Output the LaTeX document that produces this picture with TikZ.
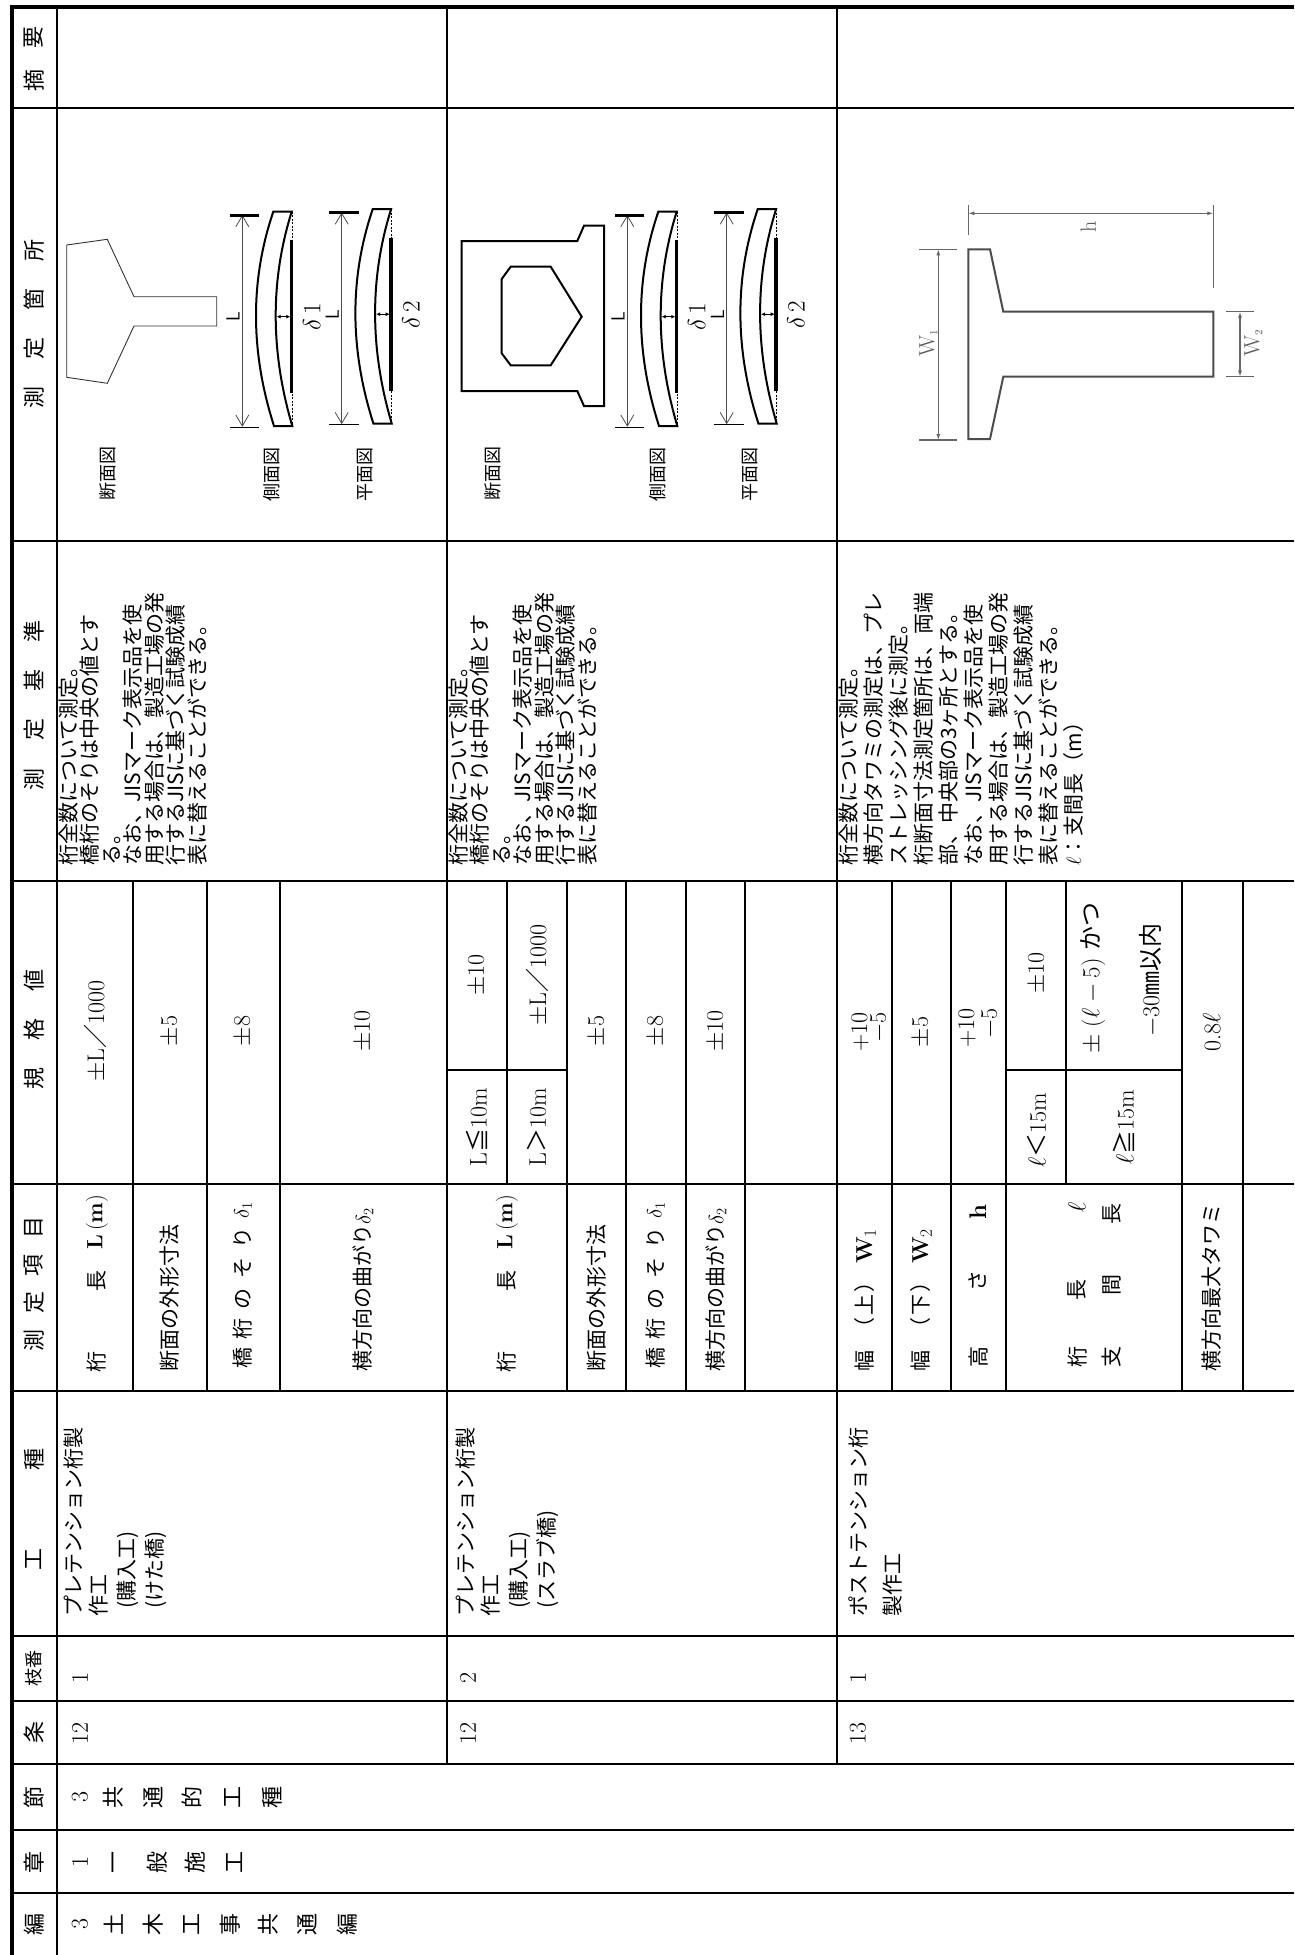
\documentclass[tikz,border=0pt]{standalone}
\usepackage{fontspec}
\usepackage{amssymb}
\newfontfamily\jp{Noto Sans CJK JP}
\usetikzlibrary{arrows.meta}
\newcommand\drawbeam[4]{%
\begin{scope}[shift={(#1,#2)}]
 \draw[line width=0.8pt, black!70, {Straight Barb[length=11pt,width=13pt]}-{Straight Barb[length=11pt,width=13pt]}] (0,215) -- (0,426.7);
 \draw[line width=3pt] (-12.3,215) -- (17,215);
 \draw[line width=1.3pt] (-12.3,427.3) -- (17,427.3);
 \draw[line width=2pt] (31,211.7) .. controls (7.7,280.3) and (7.93,351.7) .. (31.7,426) -- (50,426) .. controls (28.07,351.7) and (27.87,280.3) .. (49.4,211.7) -- cycle;
 \draw[line width=0.6pt, dash pattern=on 2pt off 1.5pt] (50,211.7) -- (50,426);
 \draw[line width=3.5pt] (49.4,240) -- (49.4,393);
 \draw[line width=0.9pt, {Latex[length=4pt,width=4pt]}-{Latex[length=4pt,width=4pt]}] (34.4,316.7) -- (48,316.7);
 \node[font=\sffamily\fontsize{19}{19}\selectfont, rotate=90, inner sep=0pt] (#3L) at (-9.3,317) {L};
 \node[font=\fontsize{25}{25}\selectfont, rotate=90, inner sep=0pt] (#3d) at (69.4,317) {$\delta$\,#4};
\end{scope}}
\begin{document}
\begin{tikzpicture}[x=1pt,y=-1pt,
  tl/.style={line width=2.6pt},
  tb/.style={line width=4.6pt},
  jt/.style={font=\jp\fontsize{21}{22}\selectfont, inner sep=0pt, rotate=90},
  hd/.style={font=\jp\fontsize{22}{22}\selectfont, inner sep=0pt, rotate=90},
  nm/.style={font=\fontsize{24}{24}\selectfont, inner sep=0pt, rotate=90},
  lb/.style={font=\jp\fontsize{18}{18}\selectfont, inner sep=0pt, rotate=90},
  gr/.style={draw=black!60, line width=1.1pt},
]
\fill[white] (0,0) rectangle (1294,1955);
\useasboundingbox (0,0) rectangle (1294,1955);

% ---------------- table lines ----------------
\draw[tb] (9.7,7) -- (1294,7);
\draw[tb] (12,4.7) -- (12,1955);
\draw[tl] (57,7) -- (57,1955);
\foreach \yy in {108,541,881,1184,1391,1636,1701,1764,1830,1893} \draw[tl] (12,\yy) -- (1294,\yy);
\foreach \xx in {447,837} \draw[tl] (\xx,7) -- (\xx,1764);
\foreach \xx in {133,207,280,567,626,686,745,892,951,1006,1182,1243} \draw[tl] (\xx,881) -- (\xx,1391);
\draw[tl] (507,881) -- (507,1184);
\draw[tl] (1066,881) -- (1066,1184);
\draw[tl] (447,1070) -- (567,1070);
\draw[tl] (1006,1070) -- (1182,1070);

% ---------------- header column ----------------
\node[hd] (hA1) at (34,80) {摘}; \node[hd] (hA2) at (34,37) {要};
\node[hd] (hB1) at (34,397) {測}; \node[hd] (hB2) at (34,348) {定};
\node[hd] (hB3) at (34,299) {箇}; \node[hd] (hB4) at (34,250) {所};
\node[hd] (hC1) at (34,779) {測}; \node[hd] (hC2) at (34,729) {定};
\node[hd] (hC3) at (34,680) {基}; \node[hd] (hC4) at (34,631) {準};
\node[hd] (hD1) at (34,1078) {規}; \node[hd] (hD2) at (34,1029) {格}; \node[hd] (hD3) at (34,980) {値};
\node[hd] (hE1) at (34,1340) {測}; \node[hd] (hE2) at (34,1302) {定};
\node[hd] (hE3) at (34,1265) {項}; \node[hd] (hE4) at (34,1227) {目};
\node[hd] (hF1) at (34,1559) {工}; \node[hd] (hF2) at (34,1459) {種};
\node[hd, font=\jp\fontsize{18}{18}\selectfont] (hG) at (34,1668) {枝番};
\node[hd] (hH) at (34,1732) {条};
\node[hd] (hI) at (34,1797) {節};
\node[hd] (hJ) at (34,1862) {章};
\node[hd] (hK) at (34,1924) {編};

% ---------------- 編 / 章 / 節 ----------------
\node[nm] (hen0) at (80,1924) {3};
\foreach \c/\xx [count=\i] in {土/114,木/153,工/192,事/230,共/268,通/307,編/347}
  \node[hd, name=hen\i] at (\xx,1924) {\c};
\node[nm] (sho0) at (80,1862) {1};
\foreach \c/\xx [count=\i] in {一/117,般/157,施/195,工/235}
  \node[hd, name=sho\i] at (\xx,1862) {\c};
\node[nm] (set0) at (80,1797) {3};
\foreach \c/\xx [count=\i] in {共/113,通/153,的/192,工/233,種/272}
  \node[hd, name=set\i] at (\xx,1797) {\c};

% ---------------- 条 / 枝番 ----------------
\node[nm, anchor=west] (jo1) at (80,1745) {12};
\node[nm, anchor=west] (jo2) at (468,1745) {12};
\node[nm, anchor=west] (jo3) at (858,1745) {13};
\node[nm, anchor=west] (ed1) at (80,1684) {1};
\node[nm, anchor=west] (ed2) at (468,1684) {2};
\node[nm, anchor=west] (ed3) at (858,1684) {1};

% ---------------- 工種 ----------------
\node[jt, anchor=base west] (ka1) at (81,1617) {プレテンション桁製};
\node[jt, anchor=base west] (ka2) at (106,1617) {作工};
\node[jt, anchor=base west] (ka3) at (134,1609) {(購入工)};
\node[jt, anchor=base west] (ka4) at (162,1609) {(けた橋)};
\node[jt, anchor=base west] (kb1) at (473,1617) {プレテンション桁製};
\node[jt, anchor=base west] (kb2) at (498,1617) {作工};
\node[jt, anchor=base west] (kb3) at (526,1609) {(購入工)};
\node[jt, anchor=base west] (kb4) at (554,1609) {(スラブ橋)};
\node[jt, anchor=base west] (kc1) at (866,1617) {ポストテンション桁};
\node[jt, anchor=base west] (kc2) at (900,1617) {製作工};

% ---------------- 測定項目 ----------------
% row 1
\node[jt] (ia1) at (97,1362) {桁};
\node[jt] (ia2) at (97,1281) {長};
\node[nm, font=\fontsize{22}{22}\selectfont] (ia3) at (97,1222) {\textbf{L}\,(\textbf{m})};
\node[jt, anchor=west] (ia4) at (170,1372) {断面の外形寸法};
\foreach \c/\yy [count=\i] in {橋/1358,桁/1329,の/1299,そ/1268,り/1238}
  \node[jt, name=ia5\i] at (243,\yy) {\c};
\node[nm, font=\fontsize{22}{22}\selectfont] (ia6) at (243,1210) {$\delta_1$};
\node[jt, anchor=west] (ia7) at (363,1372) {横方向の曲がり$\delta_2$};
% row 2
\node[jt] (ib1) at (507,1362) {桁};
\node[jt] (ib2) at (507,1281) {長};
\node[nm, font=\fontsize{22}{22}\selectfont] (ib3) at (507,1222) {\textbf{L}\,(\textbf{m})};
\node[jt, anchor=west] (ib4) at (597,1372) {断面の外形寸法};
\foreach \c/\yy [count=\i] in {橋/1358,桁/1329,の/1299,そ/1268,り/1238}
  \node[jt, name=ib5\i] at (656,\yy) {\c};
\node[nm, font=\fontsize{22}{22}\selectfont] (ib6) at (656,1210) {$\delta_1$};
\node[jt, anchor=west] (ib7) at (716,1372) {横方向の曲がり$\delta_2$};
% row 3
\node[jt, anchor=west] (ic1) at (865,1372) {幅\hspace{12pt}（\hspace{2pt}上\hspace{2pt}）\hspace{8pt}{\rmfamily\fontsize{23}{23}\selectfont\textbf{W}$_1$}};
\node[jt, anchor=west] (ic2) at (921,1372) {幅\hspace{12pt}（\hspace{2pt}下\hspace{2pt}）\hspace{8pt}{\rmfamily\fontsize{23}{23}\selectfont\textbf{W}$_2$}};
\node[jt] (ic3) at (978,1357) {高};
\node[jt] (ic4) at (978,1281) {さ};
\node[nm] (ic5) at (978,1212) {\textbf{h}};
\node[jt] (ic6) at (1077,1357) {桁};
\node[jt] (ic7) at (1077,1290) {長};
\node[nm] (ic8) at (1077,1207) {$\ell$};
\node[jt] (ic9) at (1112,1357) {支};
\node[jt] (ic10) at (1112,1285) {間};
\node[jt] (ic11) at (1112,1214) {長};
\node[jt, anchor=west] (ic12) at (1212,1372) {横方向最大タワミ};

% ---------------- 規格値 ----------------
\node[nm] (va1) at (95,1031) {$\pm$L{\jp ／}1000};
\node[nm] (va2) at (170,1031) {$\pm$5};
\node[nm] (va3) at (243,1031) {$\pm$8};
\node[nm] (va4) at (363,1031) {$\pm$10};
\node[nm] (vb1) at (477,975) {$\pm$10};
\node[nm] (vb2) at (537,975) {$\pm$L{\jp ／}1000};
\node[nm] (vb3) at (477,1127) {L{\jp ≦}10m};
\node[nm] (vb4) at (537,1127) {L{\jp ＞}10m};
\node[nm] (vb5) at (597,1031) {$\pm$5};
\node[nm] (vb6) at (656,1031) {$\pm$8};
\node[nm] (vb7) at (716,1031) {$\pm$10};
\node[nm, anchor=east] (vc1) at (860,1012) {+10};
\node[nm, anchor=east] (vc2) at (879,1012) {$-$5};
\node[nm] (vc3) at (921,1032) {$\pm$5};
\node[nm, anchor=east] (vc4) at (967,1008) {+10};
\node[nm, anchor=east] (vc5) at (990,1008) {$-$5};
\node[nm] (vc6) at (1037,973) {$\pm$10};
\node[nm] (vc7) at (1037,1130) {$\ell${\jp ＜}15m};
\node[nm] (vc8) at (1124,1127) {$\ell${\jp ≧}15m};
\node[nm, anchor=west] (vc9) at (1093,1054) {$\pm$\ ($\ell-5$)\ {\jp かつ}};
\node[nm, anchor=west] (vc10) at (1150,1037) {$-$30{\jp ㎜以内}};
\node[nm] (vc11) at (1212,1032) {0.8$\ell$};

% ---------------- 測定基準 ----------------
\foreach \t [count=\i] in {{桁全数について測定。},{橋桁のそりは中央の値とす},{る。},{なお、JISマーク表示品を使},{用する場合は、製造工場の発},{行するJISに基づく試験成績},{表に替えることができる。}}
  \node[jt, anchor=base west, name=ca\i] at ({76+21.5*(\i-1)},866) {\t};
\foreach \t [count=\i] in {{桁全数について測定。},{橋桁のそりは中央の値とす},{る。},{なお、JISマーク表示品を使},{用する場合は、製造工場の発},{行するJISに基づく試験成績},{表に替えることができる。}}
  \node[jt, anchor=base west, name=cb\i] at ({466+21.5*(\i-1)},866) {\t};
\foreach \t [count=\i] in {{桁全数について測定。},{横方向タワミの測定は、プレ},{ストレッシング後に測定。},{桁断面寸法測定箇所は、両端},{部、中央部の3ヶ所とする。},{なお、JISマーク表示品を使},{用する場合は、製造工場の発},{行するJISに基づく試験成績},{表に替えることができる。},{$\ell$：支間長（m）}}
  \node[jt, anchor=base west, name=cc\i] at ({856+25*(\i-1)},866) {\t};

% ---------------- 測定箇所 : row 1 ----------------
\draw[line width=0.9pt, black!80] (66.7,245) -- (107.3,239.3) -- (134,296.7) -- (216.7,296.7) -- (216.7,326) -- (134,326) -- (107.3,383.3) -- (66.7,377.3) -- cycle;
\node[lb] (da1) at (108,473) {断面図};
\node[lb] (da2) at (272,474) {側面図};
\node[lb] (da3) at (365,474) {平面図};
\drawbeam{242.3}{0}{sA}{1}
\drawbeam{341.7}{-2.5}{pA}{2}

% ---------------- 測定箇所 : row 2 ----------------
\draw[line width=2pt] (461.7,241) -- (577.3,241) -- (584,225.7) -- (604,225.7) -- (604,406) -- (584,406) -- (577.3,391) -- (461.7,391) -- cycle;
\draw[line width=2pt] (510.7,266.7) -- (550.7,266.7) -- (581.7,316.7) -- (550.7,365.3) -- (510.7,365.3) -- (501.7,353.3) -- (501.7,279) -- cycle;
\node[lb] (db1) at (493,473) {断面図};
\node[lb] (db2) at (658,474) {側面図};
\node[lb] (db3) at (750,474) {平面図};
\drawbeam{627.3}{0}{sB}{1}
\drawbeam{726.7}{-2.5}{pB}{2}

% ---------------- 測定箇所 : row 3 ----------------
\draw[draw=black!70, line width=2pt] (968.3,249.3) -- (990,249.3) -- (1003.3,311.7) -- (1213.3,311.7) -- (1213.3,376.7) -- (1003.3,376.7) -- (990,439) -- (968.3,439) -- cycle;
\draw[gr, {Latex[length=6pt,width=4pt]}-{Latex[length=6pt,width=4pt]}] (968.3,213.3) -- (1213.3,213.3);
\draw[gr] (968.3,205) -- (968.3,235);
\draw[gr] (1213.3,205) -- (1213.3,288.3);
\draw[gr, {Latex[length=6pt,width=4pt]}-{Latex[length=6pt,width=4pt]}] (938.3,249.3) -- (938.3,440);
\draw[gr] (919,249.3) -- (956.7,249.3);
\draw[gr] (919,440) -- (956.7,440);
\draw[gr, {Latex[length=6pt,width=4pt]}-{Latex[length=6pt,width=4pt]}] (1240,311.7) -- (1240,376.7);
\draw[gr] (1226,311.7) -- (1254.3,311.7);
\draw[gr] (1226,376.7) -- (1254.3,376.7);
\node[nm, text=black!65, font=\fontsize{22}{22}\selectfont] (dc1) at (1088.3,226.7) {h};
\node[nm, text=black!65, font=\fontsize{22}{22}\selectfont] (dc2) at (928.3,343.3) {W$_{\scriptscriptstyle 1}$};
\node[nm, text=black!65, font=\fontsize{22}{22}\selectfont] (dc3) at (1253.3,343.3) {W$_{\scriptscriptstyle 2}$};
\end{tikzpicture}
\end{document}
